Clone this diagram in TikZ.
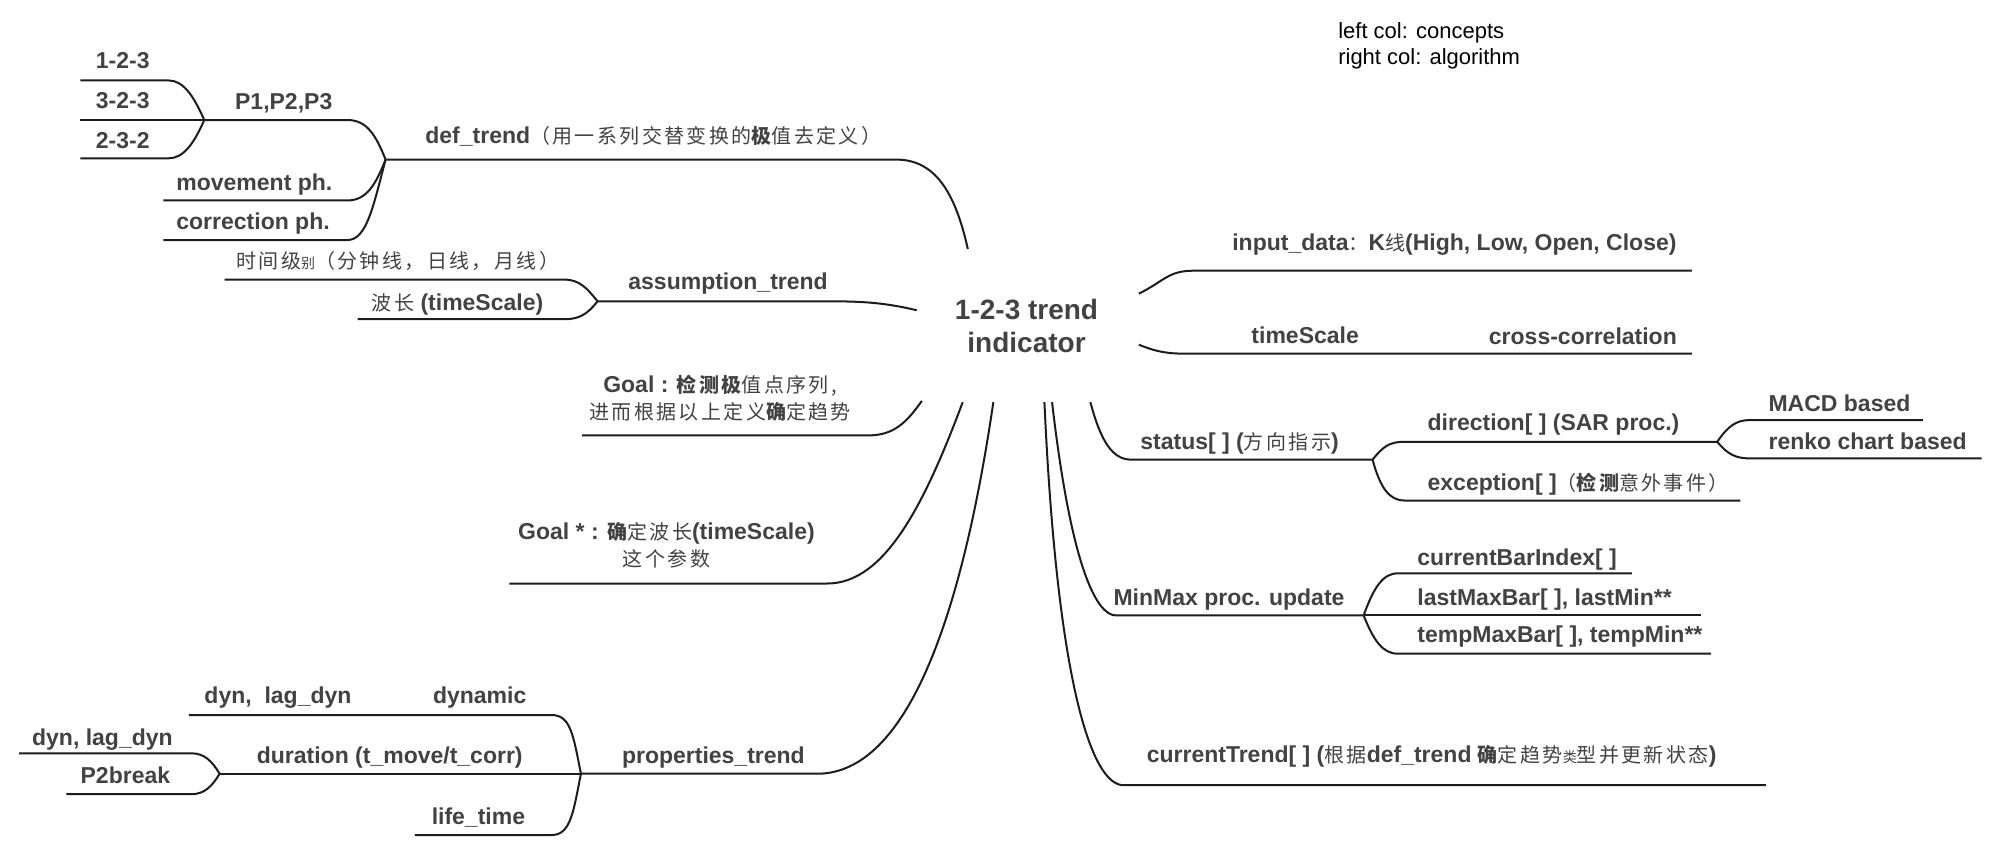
\documentclass[tikz,border=0pt]{standalone}
\usepackage{fontspec}
\setmainfont{Liberation Sans}
\newfontfamily\cjk[LetterSpace=12]{Noto Sans CJK SC}
\newcommand{\zhr}[1]{{\cjk\mdseries\fontsize{20}{24}\selectfont #1}}
\newcommand{\zhb}[1]{{\cjk\bfseries\fontsize{20}{24}\selectfont #1}}
\newcommand{\zhs}[1]{{\cjk\mdseries\fontsize{14}{16}\selectfont #1}}
\newcommand{\lblfont}{\fontsize{23}{27}\selectfont\bfseries}
\newcommand{\rootfont}{\fontsize{28}{33}\selectfont\bfseries}
\definecolor{txtcol}{RGB}{66,66,66}
\definecolor{linecol}{RGB}{28,28,28}

\begin{document}
\begin{tikzpicture}[x=1.2768pt, y=-1.2768pt,
    branch/.style={draw=linecol, line width=2pt},
    lbl/.style={anchor=base west, inner sep=0pt, text=txtcol, font=\lblfont},
    twoline/.style={lbl, anchor=center, align=center},
    root/.style={align=center, inner sep=0pt, text=txtcol, font=\rootfont},
    note/.style={anchor=west, align=left, inner sep=0pt, font=\fontsize{22}{25.5}\selectfont}]
        \useasboundingbox (0,0) rectangle (1568,670);

        % Central topic
        \node[root] (root) at (804,255) {1-2-3 trend\\indicator};
        \node[note] (note) at (1048,36) {left col: concepts\\right col: algorithm};

        % def_trend
        \coordinate (cdef) at (758,195);
        \coordinate (bdef) at (702,125);
        \coordinate (jdef) at (302,125);
        \draw[branch] (cdef) .. controls +(-10,-45) and +(30,0) .. (bdef) -- (jdef);
        \node[lbl] (def) at (333,112) {def\_trend\zhr{（用一系列交替变换的}\zhb{极}\zhr{值去定义）}};

        % P1,P2,P3 and its patterns
        \coordinate (bp) at (272,94);
        \coordinate (jp) at (160,94);
        \draw[branch] (jdef) .. controls +(-8,-20) and +(15,0) .. (bp) -- (jp);
        \node[lbl] (p123) at (184,86) {P1,P2,P3};
        \coordinate (b123) at (132,63);
        \coordinate (e123) at (63,63);
        \coordinate (e323) at (63,94);
        \coordinate (b232) at (132,124);
        \coordinate (e232) at (63,124);
        \draw[branch] (jp) .. controls +(-8,-18) and +(12,0) .. (b123) -- (e123);
        \draw[branch] (jp) -- (e323);
        \draw[branch] (jp) .. controls +(-8,18) and +(12,0) .. (b232) -- (e232);
        \foreach \t/\y in {1-2-3/54, 3-2-3/85, 2-3-2/116} {
            \node[lbl] (pat\y) at (75,\y) {\t};
        }

        % movement / correction phase
        \coordinate (bmov) at (272,157);
        \coordinate (emov) at (128,157);
        \coordinate (bcor) at (272,188);
        \coordinate (ecor) at (128,188);
        \draw[branch] (jdef) .. controls +(-8,20) and +(15,0) .. (bmov) -- (emov);
        \draw[branch] (jdef) .. controls +(-10,38) and +(15,0) .. (bcor) -- (ecor);
        \node[lbl] (mov) at (138,149) {movement ph.};
        \node[lbl] (cor) at (138,180) {correction ph.};

        % assumption_trend
        \coordinate (cass) at (718,243);
        \coordinate (bass) at (650,236);
        \coordinate (jass) at (468,236);
        \draw[branch] (cass) .. controls +(-25,-6) and +(25,0) .. (bass) -- (jass);
        \node[lbl] (ass) at (492,227) {assumption\_trend};
        \coordinate (btime) at (442,219);
        \coordinate (etime) at (176,219);
        \coordinate (bwave) at (442,250);
        \coordinate (ewave) at (280,250);
        \draw[branch] (jass) .. controls +(-8,-10) and +(12,0) .. (btime) -- (etime);
        \draw[branch] (jass) .. controls +(-8,10) and +(12,0) .. (bwave) -- (ewave);
        \node[lbl] (time) at (185,210) {\zhr{时间级}\zhs{别}\zhr{（分钟线，日线，月线）}};
        \node[lbl] (wave) at (291,243) {\zhr{波长} (timeScale)};

        % Goal
        \coordinate (cgoal) at (722,314);
        \coordinate (bgoal) at (680,341);
        \coordinate (egoal) at (456,341);
        \draw[branch] (cgoal) .. controls +(-12,17) and +(20,0) .. (bgoal) -- (egoal);
        \node[twoline] (goal) at (564,312) {Goal : \zhb{检测极}\zhr{值点序列,}\\\zhr{进而根据以上定义}\zhb{确}\zhr{定趋势}};

        % Goal *
        \coordinate (cgst) at (754,315);
        \coordinate (bgst) at (648,457);
        \coordinate (egst) at (399,457);
        \draw[branch] (cgst) .. controls +(-30,80) and +(45,0) .. (bgst) -- (egst);
        \node[twoline] (goalst) at (522,427) {Goal * : \zhb{确}\zhr{定波长}(timeScale)\\\zhr{这个参数}};

        % properties_trend
        \coordinate (cprop) at (778,315);
        \coordinate (jprop) at (455,606);
        \coordinate (bprop) at (640,606);
        \draw[branch] (cprop) .. controls +(-25,170) and +(70,0) .. (bprop) -- (jprop);
        \node[lbl] (prop) at (487,598) {properties\_trend};
        \coordinate (bdyn) at (432,560);
        \coordinate (edyn) at (148,560);
        \coordinate (jdur) at (172,606);
        \coordinate (blife) at (432,654);
        \coordinate (elife) at (325,654);
        \draw[branch] (jprop) .. controls +(-6,-30) and +(15,0) .. (bdyn) -- (edyn);
        \draw[branch] (jprop) -- (jdur);
        \draw[branch] (jprop) .. controls +(-6,30) and +(15,0) .. (blife) -- (elife);
        \node[lbl] (dlag) at (160,551) {dyn,\ \ lag\_dyn};
        \node[lbl] (dyn) at (339,551) {dynamic};
        \node[lbl] (dur) at (201,598) {duration (t\_move/t\_corr)};
        \node[lbl] (life) at (338,646) {life\_time};
        \coordinate (bdl) at (150,590);
        \coordinate (edl) at (15,590);
        \coordinate (bp2) at (150,622);
        \coordinate (ep2) at (52,622);
        \draw[branch] (jdur) .. controls +(-6,-10) and +(10,0) .. (bdl) -- (edl);
        \draw[branch] (jdur) .. controls +(-6,10) and +(10,0) .. (bp2) -- (ep2);
        \node[lbl] (dlag2) at (25,584) {dyn, lag\_dyn};
        \node[lbl] (p2b) at (63,614) {P2break};

        % input_data
        \coordinate (cin) at (892,230);
        \coordinate (bin) at (935,212);
        \coordinate (ein) at (1325,212);
        \draw[branch] (cin) .. controls +(20,-10) and +(-20,0) .. (bin) -- (ein);
        \node[lbl] (in) at (965,196) {input\_data\zhr{：}K\zhr{线}(High, Low, Open, Close)};

        % timeScale
        \coordinate (cts) at (892,270);
        \coordinate (bts) at (930,277);
        \coordinate (ets) at (1325,277);
        \draw[branch] (cts) .. controls +(15,6) and +(-15,0) .. (bts) -- (ets);
        \node[lbl] (ts) at (980,269) {timeScale};
        \node[lbl] (xc) at (1166,270) {cross-correlation};

        % status
        \coordinate (cst) at (854,315);
        \coordinate (bst) at (886,360);
        \coordinate (jst) at (1075,360);
        \draw[branch] (cst) .. controls +(8,30) and +(-15,0) .. (bst) -- (jst);
        \node[lbl] (st) at (893,352) {status[ ] (\zhr{方向指示})};
        \coordinate (bdir) at (1100,346);
        \coordinate (jdir) at (1345,346);
        \coordinate (bexc) at (1100,392);
        \coordinate (eexc) at (1363,392);
        \draw[branch] (jst) .. controls +(8,-10) and +(-12,0) .. (bdir) -- (jdir);
        \draw[branch] (jst) .. controls +(6,22) and +(-12,0) .. (bexc) -- (eexc);
        \node[lbl] (dir) at (1118,337) {direction[ ] (SAR proc.)};
        \node[lbl] (exc) at (1118,384) {exception[ ]\zhr{（}\zhb{检测}\zhr{意外事件）}};
        \coordinate (bmacd) at (1370,329);
        \coordinate (emacd) at (1506,329);
        \coordinate (bren) at (1370,359);
        \coordinate (eren) at (1552,359);
        \draw[branch] (jdir) .. controls +(8,-12) and +(-10,0) .. (bmacd) -- (emacd);
        \draw[branch] (jdir) .. controls +(8,10) and +(-10,0) .. (bren) -- (eren);
        \node[lbl] (macd) at (1385,322) {MACD based};
        \node[lbl] (renko) at (1385,352) {renko chart based};

        % MinMax proc. update
        \coordinate (cmm) at (824,315);
        \coordinate (bmm) at (874,482);
        \coordinate (jmm) at (1068,482);
        \draw[branch] (cmm) .. controls +(15,130) and +(-15,0) .. (bmm) -- (jmm);
        \node[lbl] (mm) at (872,474) {MinMax proc. update};
        \coordinate (bcbi) at (1095,449);
        \coordinate (ecbi) at (1278,449);
        \coordinate (elm) at (1332,482);
        \coordinate (btm) at (1095,512);
        \coordinate (etm) at (1340,512);
        \draw[branch] (jmm) .. controls +(8,-22) and +(-12,0) .. (bcbi) -- (ecbi);
        \draw[branch] (jmm) -- (elm);
        \draw[branch] (jmm) .. controls +(8,20) and +(-12,0) .. (btm) -- (etm);
        \node[lbl] (cbi) at (1110,443) {currentBarIndex[ ]};
        \node[lbl] (lm) at (1110,474) {lastMaxBar[ ], lastMin**};
        \node[lbl] (tm) at (1110,503) {tempMaxBar[ ], tempMin**};

        % currentTrend
        \coordinate (cct) at (818,315);
        \coordinate (bct) at (880,615);
        \coordinate (ect) at (1383,615);
        \draw[branch] (cct) .. controls +(10,220) and +(-25,0) .. (bct) -- (ect);
        \node[lbl] (ct) at (898,597) {currentTrend[ ] (\zhr{根据}def\_trend \zhb{确}\zhr{定趋势}\zhs{类}\zhr{型并更新状态})};
    \end{tikzpicture}
\end{document}
